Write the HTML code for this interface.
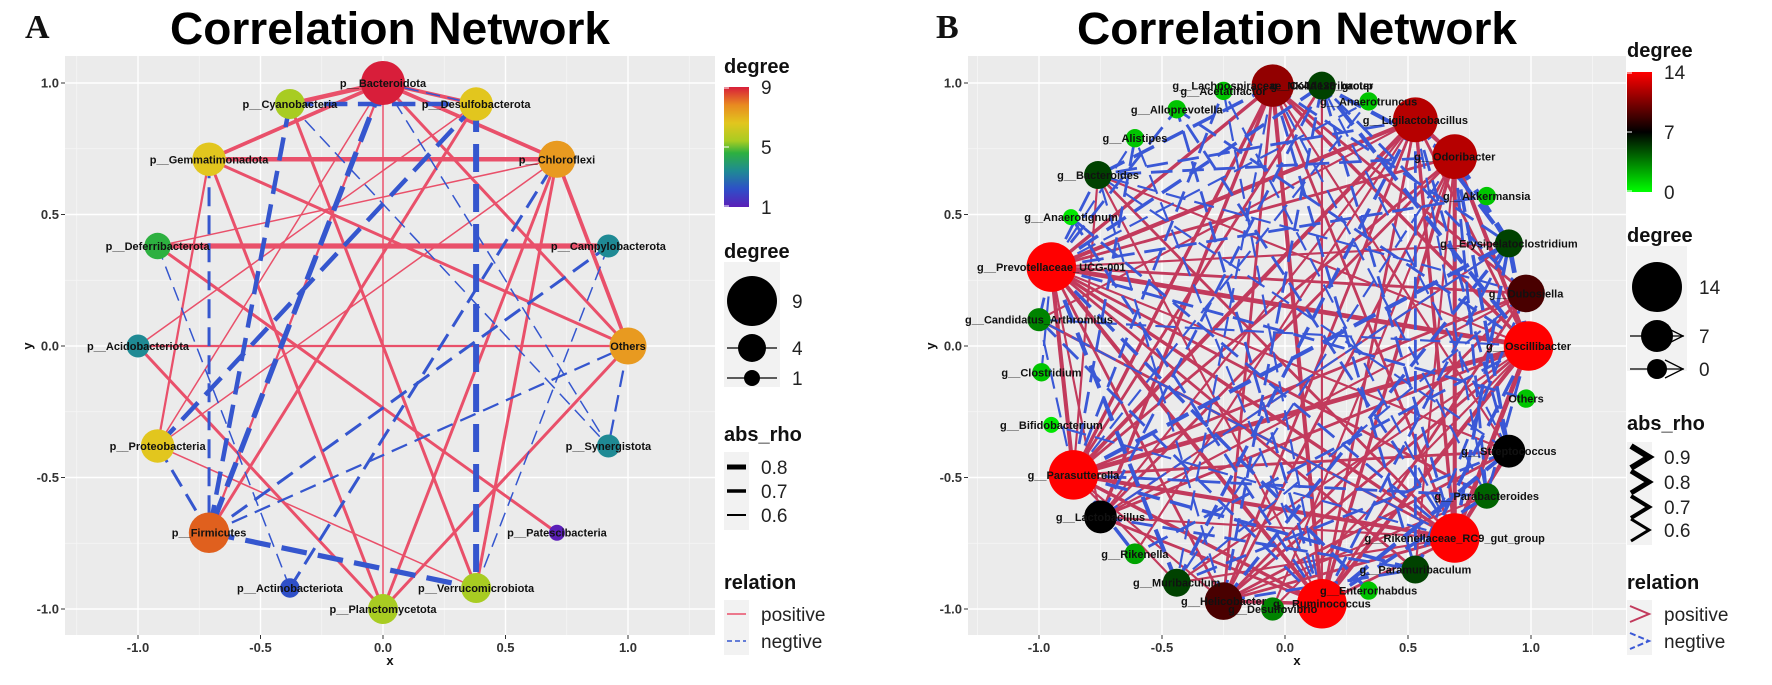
<!DOCTYPE html>
<html><head><meta charset="utf-8"><style>
html,body{margin:0;padding:0;background:#fff;}
svg{display:block;font-family:"Liberation Sans",sans-serif;}
</style></head><body>
<svg id="root" width="1772" height="685" viewBox="0 0 1772 685" xmlns="http://www.w3.org/2000/svg">
<defs>
<linearGradient id="gradA" x1="0" y1="1" x2="0" y2="0">
<stop offset="0" stop-color="#5B1FB8"/><stop offset="0.15" stop-color="#2E4FC8"/><stop offset="0.3" stop-color="#1F8A94"/><stop offset="0.45" stop-color="#2DB040"/><stop offset="0.55" stop-color="#A8CC22"/><stop offset="0.7" stop-color="#E2C61E"/><stop offset="0.85" stop-color="#E88A20"/><stop offset="1" stop-color="#D81E3A"/>
</linearGradient>
<linearGradient id="gradB" x1="0" y1="1" x2="0" y2="0">
<stop offset="0" stop-color="#00FF00"/><stop offset="0.5" stop-color="#000000"/><stop offset="1" stop-color="#FF0000"/>
</linearGradient>
</defs>
<g id="panelA"></g>
<g id="panelB"></g>
<g id="legA"></g>
<g id="legB"></g>
</svg>
<script>
// ---------- Panel A data ----------
const namesA = ["p__Bacteroidota","p__Desulfobacterota","p__Chloroflexi","p__Campylobacterota","Others","p__Synergistota","p__Patescibacteria","p__Verrucomicrobiota","p__Planctomycetota","p__Actinobacteriota","p__Firmicutes","p__Proteobacteria","p__Acidobacteriota","p__Deferribacterota","p__Gemmatimonadota","p__Cyanobacteria"];
const xValsA = [0, 0.38, 0.71, 0.92, 1.0, 0.92, 0.71, 0.38, 0, -0.38, -0.71, -0.92, -1.0, -0.92, -0.71, -0.38];
const yValsA = [1.0, 0.92, 0.71, 0.38, 0, -0.38, -0.71, -0.92, -1.0, -0.92, -0.71, -0.38, 0, 0.38, 0.71, 0.92];
const degA = [9, 6, 7, 3, 7, 3, 1, 5, 5, 2, 8, 6, 3, 4, 6, 5];
const posEdgesA = [[0,15,0.8],[0,14,0.75],[0,1,0.75],[0,2,0.75],[0,4,0.7],[0,8,0.6],[0,11,0.6],[0,10,0.65],[14,2,0.8],[13,3,0.85],[12,4,0.65],[14,4,0.7],[14,8,0.7],[14,11,0.65],[15,7,0.7],[13,6,0.7],[12,8,0.7],[1,10,0.7],[2,8,0.7],[1,12,0.6],[2,11,0.6],[2,13,0.6],[4,8,0.7],[2,7,0.7],[11,7,0.6],[2,4,0.75]];
const negEdgesA = [[0,1,0.6],[15,1,0.8],[15,10,0.8],[0,10,0.85],[1,11,0.8],[1,7,0.9],[14,10,0.7],[10,7,0.85],[11,10,0.7],[10,3,0.7],[10,4,0.65],[9,2,0.7],[15,5,0.6],[0,5,0.6],[13,9,0.6],[3,7,0.6],[4,5,0.65]];
const ticksA = [-1.0,-0.5,0.0,0.5,1.0];
const tickLabels = ["-1.0","-0.5","0.0","0.5","1.0"];

// ---------- Panel B data ----------
const namesB = ["g__Lachnospiraceae_NK4A136_group","g__Colidextribacter","g__Anaerotruncus","g__Ligilactobacillus","g__Odoribacter","g__Akkermansia","g__Erysipelatoclostridium","g__Dubosiella","g__Oscillibacter","Others","g__Streptococcus","g__Parabacteroides","g__Rikenellaceae_RC9_gut_group","g__Paramuribaculum","g__Enterorhabdus","g__Ruminococcus","g__Desulfovibrio","g__Helicobacter","g__Muribaculum","g__Rikenella","g__Lactobacillus","g__Parasutterella","g__Bifidobacterium","g__Clostridium","g__Candidatus_Arthromitus","g__Prevotellaceae_UCG-001","g__Anaerotignum","g__Bacteroides","g__Alistipes","g__Alloprevotella","g__Acetatifactor"];
const xValsB = [-0.05,0.15,0.34,0.53,0.69,0.82,0.91,0.98,0.99,0.98,0.91,0.82,0.69,0.53,0.34,0.15,-0.05,-0.25,-0.44,-0.61,-0.75,-0.86,-0.95,-0.99,-1.0,-0.95,-0.87,-0.76,-0.61,-0.44,-0.25];
const yValsB = [0.99,0.99,0.93,0.86,0.72,0.57,0.39,0.20,0.0,-0.2,-0.4,-0.57,-0.73,-0.85,-0.93,-0.98,-1.0,-0.97,-0.90,-0.79,-0.65,-0.49,-0.30,-0.10,0.10,0.30,0.49,0.65,0.79,0.90,0.97];
const degB = [11,5,1,12,12,1,5,9,14,1,7,4,14,5,1,14,3,9,5,2,7,14,0,1,3,14,0,5,1,1,1];
const posEdgesB = [[25,3,0.8],[25,4,0.7],[25,8,0.85],[25,12,0.75],[25,15,0.8],[25,7,0.7],[25,10,0.65],[25,0,0.75],[25,21,0.8],[25,17,0.7],[25,20,0.65],[25,13,0.7],[25,6,0.65],[25,11,0.7],
[21,0,0.75],[21,3,0.8],[21,4,0.7],[21,8,0.85],[21,12,0.8],[21,15,0.75],[21,7,0.7],[21,17,0.65],[21,1,0.7],[21,27,0.65],[21,10,0.7],[21,18,0.65],
[15,0,0.8],[15,3,0.7],[15,4,0.75],[15,8,0.8],[15,12,0.7],[15,27,0.65],[15,17,0.75],[15,20,0.7],[15,1,0.65],[15,7,0.7],
[12,0,0.7],[12,3,0.75],[12,4,0.8],[12,8,0.85],[12,17,0.7],[12,20,0.65],[12,27,0.7],[12,10,0.8],[12,18,0.65],
[8,0,0.75],[8,3,0.7],[8,4,0.8],[8,17,0.7],[8,20,0.7],[8,18,0.65],[8,27,0.65],
[3,17,0.7],[3,20,0.65],[3,4,0.8],[3,24,0.65],[4,17,0.7],[4,20,0.7],[4,13,0.65],[4,16,0.65],
[0,17,0.7],[0,20,0.75],[0,7,0.7],[0,10,0.65],[7,17,0.7],[7,20,0.65],[17,10,0.7],[6,20,0.65],[11,17,0.65],[24,12,0.7],[16,8,0.65],[19,3,0.65]];
const negEdgesB = [[25,1,0.75],[25,27,0.7],[25,18,0.8],[25,24,0.7],[25,23,0.65],[25,5,0.7],[25,2,0.65],[25,9,0.7],[25,14,0.75],[25,28,0.65],[25,29,0.7],
[21,6,0.8],[21,11,0.7],[21,13,0.75],[21,24,0.65],[21,28,0.7],[21,2,0.65],[21,30,0.7],[21,19,0.75],[21,20,0.8],
[15,6,0.7],[15,11,0.75],[15,24,0.7],[15,28,0.65],[15,29,0.7],[15,30,0.65],[15,26,0.7],[15,10,0.8],
[12,1,0.7],[12,6,0.75],[12,24,0.65],[12,29,0.7],[12,30,0.65],[12,26,0.7],[12,22,0.65],
[8,1,0.8],[8,6,0.85],[8,11,0.7],[8,13,0.75],[8,24,0.65],[8,29,0.7],[8,19,0.7],
[3,6,0.8],[3,10,0.7],[3,11,0.65],[3,13,0.7],[3,18,0.75],[3,27,0.7],
[4,6,0.9],[4,10,0.75],[4,11,0.7],[4,18,0.65],[4,27,0.7],[4,1,0.8],
[0,6,0.7],[0,11,0.65],[0,13,0.7],[0,27,0.75],[0,18,0.65],
[7,1,0.7],[7,27,0.65],[7,13,0.7],[7,18,0.65],[17,1,0.7],[17,6,0.75],[17,27,0.65],[17,13,0.7],
[20,1,0.7],[20,6,0.65],[20,13,0.7],[10,27,0.65],[10,18,0.7],[10,1,0.65]];

const NS = "http://www.w3.org/2000/svg";
function mk(tag, attrs, parent){const e=document.createElementNS(NS,tag);for(const k in attrs)e.setAttribute(k,attrs[k]);parent.appendChild(e);return e;}
function txt(s, attrs, parent){const e=mk("text",attrs,parent);e.textContent=s;return e;}

// scales
const xA = v => 383 + v*245;
const yA = v => 346 - v*263;
const xB = v => 1285 + v*246;
const yB = v => 346 - v*263;

function colA(d){
  const stops=[[1,[91,31,184]],[2,[46,79,200]],[3,[31,138,148]],[4,[45,176,64]],[5,[168,204,34]],[6,[226,198,30]],[7,[232,154,32]],[8,[224,96,30]],[9,[216,30,58]]];
  for(let i=0;i<stops.length-1;i++){if(d<=stops[i+1][0]){const t=(d-stops[i][0])/(stops[i+1][0]-stops[i][0]);const a=stops[i][1],b=stops[i+1][1];return `rgb(${a.map((c,j)=>Math.round(c+(b[j]-c)*t)).join(",")})`;}}
  return "rgb(216,30,58)";
}
function colB(d){
  if(d<=7){const t=d/7;return `rgb(0,${Math.round(230*(1-t))},0)`;}
  const t=(d-7)/7;return `rgb(${Math.round(255*t)},0,0)`;
}

function drawPanel(g, xs, ys, label, panelName, left, right){
  const top=56,bottom=635;
  const bg=mk("rect",{x:left,y:top,width:right-left,height:bottom-top,fill:"#EBEBEB"},g);
  
  
  for(let i=0;i<ticksA.length-1;i++){
    const m=(ticksA[i]+ticksA[i+1])/2;
    mk("line",{x1:xs(m),x2:xs(m),y1:top,y2:bottom,stroke:"#F6F6F6","stroke-width":0.8},g);
    mk("line",{x1:left,x2:right,y1:ys(m),y2:ys(m),stroke:"#F6F6F6","stroke-width":0.8},g);
  }
  [-1.25,1.25].forEach(m=>{ if(xs(m)>left&&xs(m)<right) mk("line",{x1:xs(m),x2:xs(m),y1:top,y2:bottom,stroke:"#F6F6F6","stroke-width":0.8},g); });
  ticksA.forEach((t,i)=>{
    mk("line",{x1:xs(t),x2:xs(t),y1:top,y2:bottom,stroke:"#FFFFFF","stroke-width":1.4},g);
    mk("line",{x1:left,x2:right,y1:ys(t),y2:ys(t),stroke:"#FFFFFF","stroke-width":1.4},g);
    mk("line",{x1:xs(t),x2:xs(t),y1:bottom,y2:bottom+4,stroke:"#333","stroke-width":1},g);
    mk("line",{x1:left-4,x2:left,y1:ys(t),y2:ys(t),stroke:"#333","stroke-width":1},g);
    const xl=txt(tickLabels[i],{x:xs(t),y:bottom+17,"text-anchor":"middle","font-size":13,"font-weight":"bold",fill:"#333"},g);
    
    
    const yl=txt(tickLabels[i],{x:left-6,y:ys(t)+4.5,"text-anchor":"end","font-size":13,"font-weight":"bold",fill:"#333"},g);
    
    
  });
  const xt=txt("x",{x:(left+right)/2,y:bottom+30,"text-anchor":"middle","font-size":13,"font-weight":"bold",fill:"#111"},g);
  
  
  const yt=txt("y",{x:0,y:0,"text-anchor":"middle","font-size":13,"font-weight":"bold",fill:"#111",transform:`translate(${left-33},${ys(0)}) rotate(-90)`},g);
  
  
  const tt=txt("Correlation Network",{x:(left+right)/2,y:44,"text-anchor":"middle","font-size":45,"font-weight":"bold",fill:"#000",textLength:440,lengthAdjust:"spacingAndGlyphs"},g);
  
  
  const pl=txt(label,{x:label==="A"?25:936,y:38,"font-size":34,"font-weight":"bold","font-family":"Liberation Serif, serif",fill:"#111"},g);
  
  
}

// ---- Panel A ----
const gA=document.getElementById("panelA");
drawPanel(gA,xA,yA,"A","panel-a",65,715);
const wA = r => 1.5 + (r-0.6)*15;
posEdgesA.forEach(e=>{
  const l=mk("line",{x1:xA(xValsA[e[0]]),y1:yA(yValsA[e[0]]),x2:xA(xValsA[e[1]]),y2:yA(yValsA[e[1]]),stroke:"#E9506A","stroke-width":wA(e[2]),"stroke-linecap":"butt"},gA);
  
  
});
negEdgesA.forEach(e=>{
  const w=wA(e[2]);
  const l=mk("line",{x1:xA(xValsA[e[0]]),y1:yA(yValsA[e[0]]),x2:xA(xValsA[e[1]]),y2:yA(yValsA[e[1]]),stroke:"#3556CE","stroke-width":w,"stroke-dasharray":`${10+w*3},${6+w}`},gA);
  
  
});
const rA = d => 8 + (d-1)*1.75;
namesA.forEach((n,i)=>{
  const c=mk("circle",{cx:xA(xValsA[i]),cy:yA(yValsA[i]),r:rA(degA[i]),fill:colA(degA[i])},gA);
  
  
});
namesA.forEach((n,i)=>{
  const t=txt(n,{x:xA(xValsA[i]),y:yA(yValsA[i])+4,"text-anchor":"middle","font-size":11,"font-weight":"bold",fill:"#111"},gA);
  
  
});

// ---- Panel B ----
const gB=document.getElementById("panelB");
drawPanel(gB,xB,yB,"B","panel-b",968,1626);
const wB = r => 1.5 + (r-0.6)*13;
posEdgesB.forEach(e=>{
  const l=mk("line",{x1:xB(xValsB[e[0]]),y1:yB(yValsB[e[0]]),x2:xB(xValsB[e[1]]),y2:yB(yValsB[e[1]]),stroke:"#C23A5C","stroke-width":wB(e[2])},gB);
  
  
});
negEdgesB.forEach(e=>{
  const w=wB(e[2]);
  const l=mk("line",{x1:xB(xValsB[e[0]]),y1:yB(yValsB[e[0]]),x2:xB(xValsB[e[1]]),y2:yB(yValsB[e[1]]),stroke:"#3A58D6","stroke-width":w,"stroke-dasharray":`${16+w*2},${7+w}`},gB);
  
  
});
const rB = d => 8 + d*1.2;
namesB.forEach((n,i)=>{
  const c=mk("circle",{cx:xB(xValsB[i]),cy:yB(yValsB[i]),r:rB(degB[i]),fill:colB(degB[i])},gB);
  
  
});
namesB.forEach((n,i)=>{
  const t=txt(n,{x:xB(xValsB[i]),y:yB(yValsB[i])+4,"text-anchor":"middle","font-size":11,"font-weight":"bold",fill:"#111"},gB);
  
  
});

// ---- Legends ----
function legend(g, L, grad, cLabels, sLabels, sR, rhoLabels, rhoW, chevron, name){
  const t1=txt("degree",{x:L,y:name==="a"?73:57,"font-size":20,"font-weight":"bold",fill:"#111"},g);
  
  
  const cb0 = name==="a"?87:72;
  mk("rect",{x:L,y:cb0,width:25,height:120,fill:`url(#${grad})`},g);
  cLabels.forEach((s,i)=>{
    const y=cb0+i*60;
    mk("line",{x1:L,x2:L+5,y1:y+(i===0?1:i===2?-1:0),y2:y+(i===0?1:i===2?-1:0),stroke:"#fff","stroke-width":1},g);
    const t=txt(s,{x:L+37,y:y+7,"font-size":19,fill:"#222"},g);
    
    
  });
  const s0 = name==="a"?251:235;
  const t2=txt("degree",{x:L,y:s0+7,"font-size":20,"font-weight":"bold",fill:"#111"},g);
  
  
  const bw = name==="a"?56:60;
  mk("rect",{x:L,y:s0+11,width:bw,height:125,fill:"#F2F2F2"},g);
  const sy = name==="a"?[301,348,378]:[287,336,369];
  const cx = L+bw/2;
  sLabels.forEach((s,i)=>{
    if(i>0){mk("line",{x1:L+3,x2:L+bw-3,y1:sy[i],y2:sy[i],stroke:"#000","stroke-width":1.3},g);
      if(chevron) mk("polyline",{points:`${L+bw-22},${sy[i]-9} ${L+bw-4},${sy[i]} ${L+bw-22},${sy[i]+9}`,fill:"none",stroke:"#000","stroke-width":1.3},g);}
    const c=mk("circle",{cx:cx,cy:sy[i],r:sR[i],fill:"#000"},g);
    
    
    const t=txt(s,{x:L+bw+12,y:sy[i]+7,"font-size":19,fill:"#222"},g);
    
    
  });
  const r0 = name==="a"?434:423;
  const t3=txt("abs_rho",{x:L,y:r0+7,"font-size":20,"font-weight":"bold",fill:"#111"},g);
  
  
  const ry = name==="a"?[467,491,515]:[457,482,507,530];
  mk("rect",{x:L,y:ry[0]-15,width:25,height:ry[ry.length-1]-ry[0]+30,fill:"#F2F2F2"},g);
  rhoLabels.forEach((s,i)=>{
    if(chevron) mk("polyline",{points:`${L+4},${ry[i]-11} ${L+22},${ry[i]} ${L+4},${ry[i]+11}`,fill:"none",stroke:"#000","stroke-width":rhoW[i]},g);
    else mk("line",{x1:L+3,x2:L+22,y1:ry[i],y2:ry[i],stroke:"#000","stroke-width":rhoW[i]},g);
    const t=txt(s,{x:L+37,y:ry[i]+7,"font-size":19,fill:"#222"},g);
    
    
  });
  const t4=txt("relation",{x:L,y:589,"font-size":20,"font-weight":"bold",fill:"#111"},g);
  
  
  mk("rect",{x:L,y:600,width:25,height:55,fill:"#F2F2F2"},g);
  const colP = name==="a"?"#E9506A":"#C23A5C", colN = name==="a"?"#3556CE":"#3A58D6";
  if(chevron){
    mk("polyline",{points:`${L+3},606 ${L+22},614 ${L+3},622`,fill:"none",stroke:colP,"stroke-width":2},g);
    mk("polyline",{points:`${L+3},633 ${L+22},641 ${L+3},649`,fill:"none",stroke:colN,"stroke-width":2,"stroke-dasharray":"6,3"},g);
  } else {
    mk("line",{x1:L+3,x2:L+22,y1:614,y2:614,stroke:colP,"stroke-width":1.5},g);
    mk("line",{x1:L+3,x2:L+22,y1:641,y2:641,stroke:colN,"stroke-width":1.5,"stroke-dasharray":"5,3"},g);
  }
  const p=txt("positive",{x:L+37,y:621,"font-size":19,fill:"#222"},g);
  
  
  const n=txt("negtive",{x:L+37,y:648,"font-size":19,fill:"#222"},g);
  
  
}
legend(document.getElementById("legA"),724,"gradA",["9","5","1"],["9","4","1"],[25,14,8],["0.8","0.7","0.6"],[5,3.5,2],false,"a");
legend(document.getElementById("legB"),1627,"gradB",["14","7","0"],["14","7","0"],[25,16,10],["0.9","0.8","0.7","0.6"],[6,5,4,3],true,"b");
</script>
</body></html>
